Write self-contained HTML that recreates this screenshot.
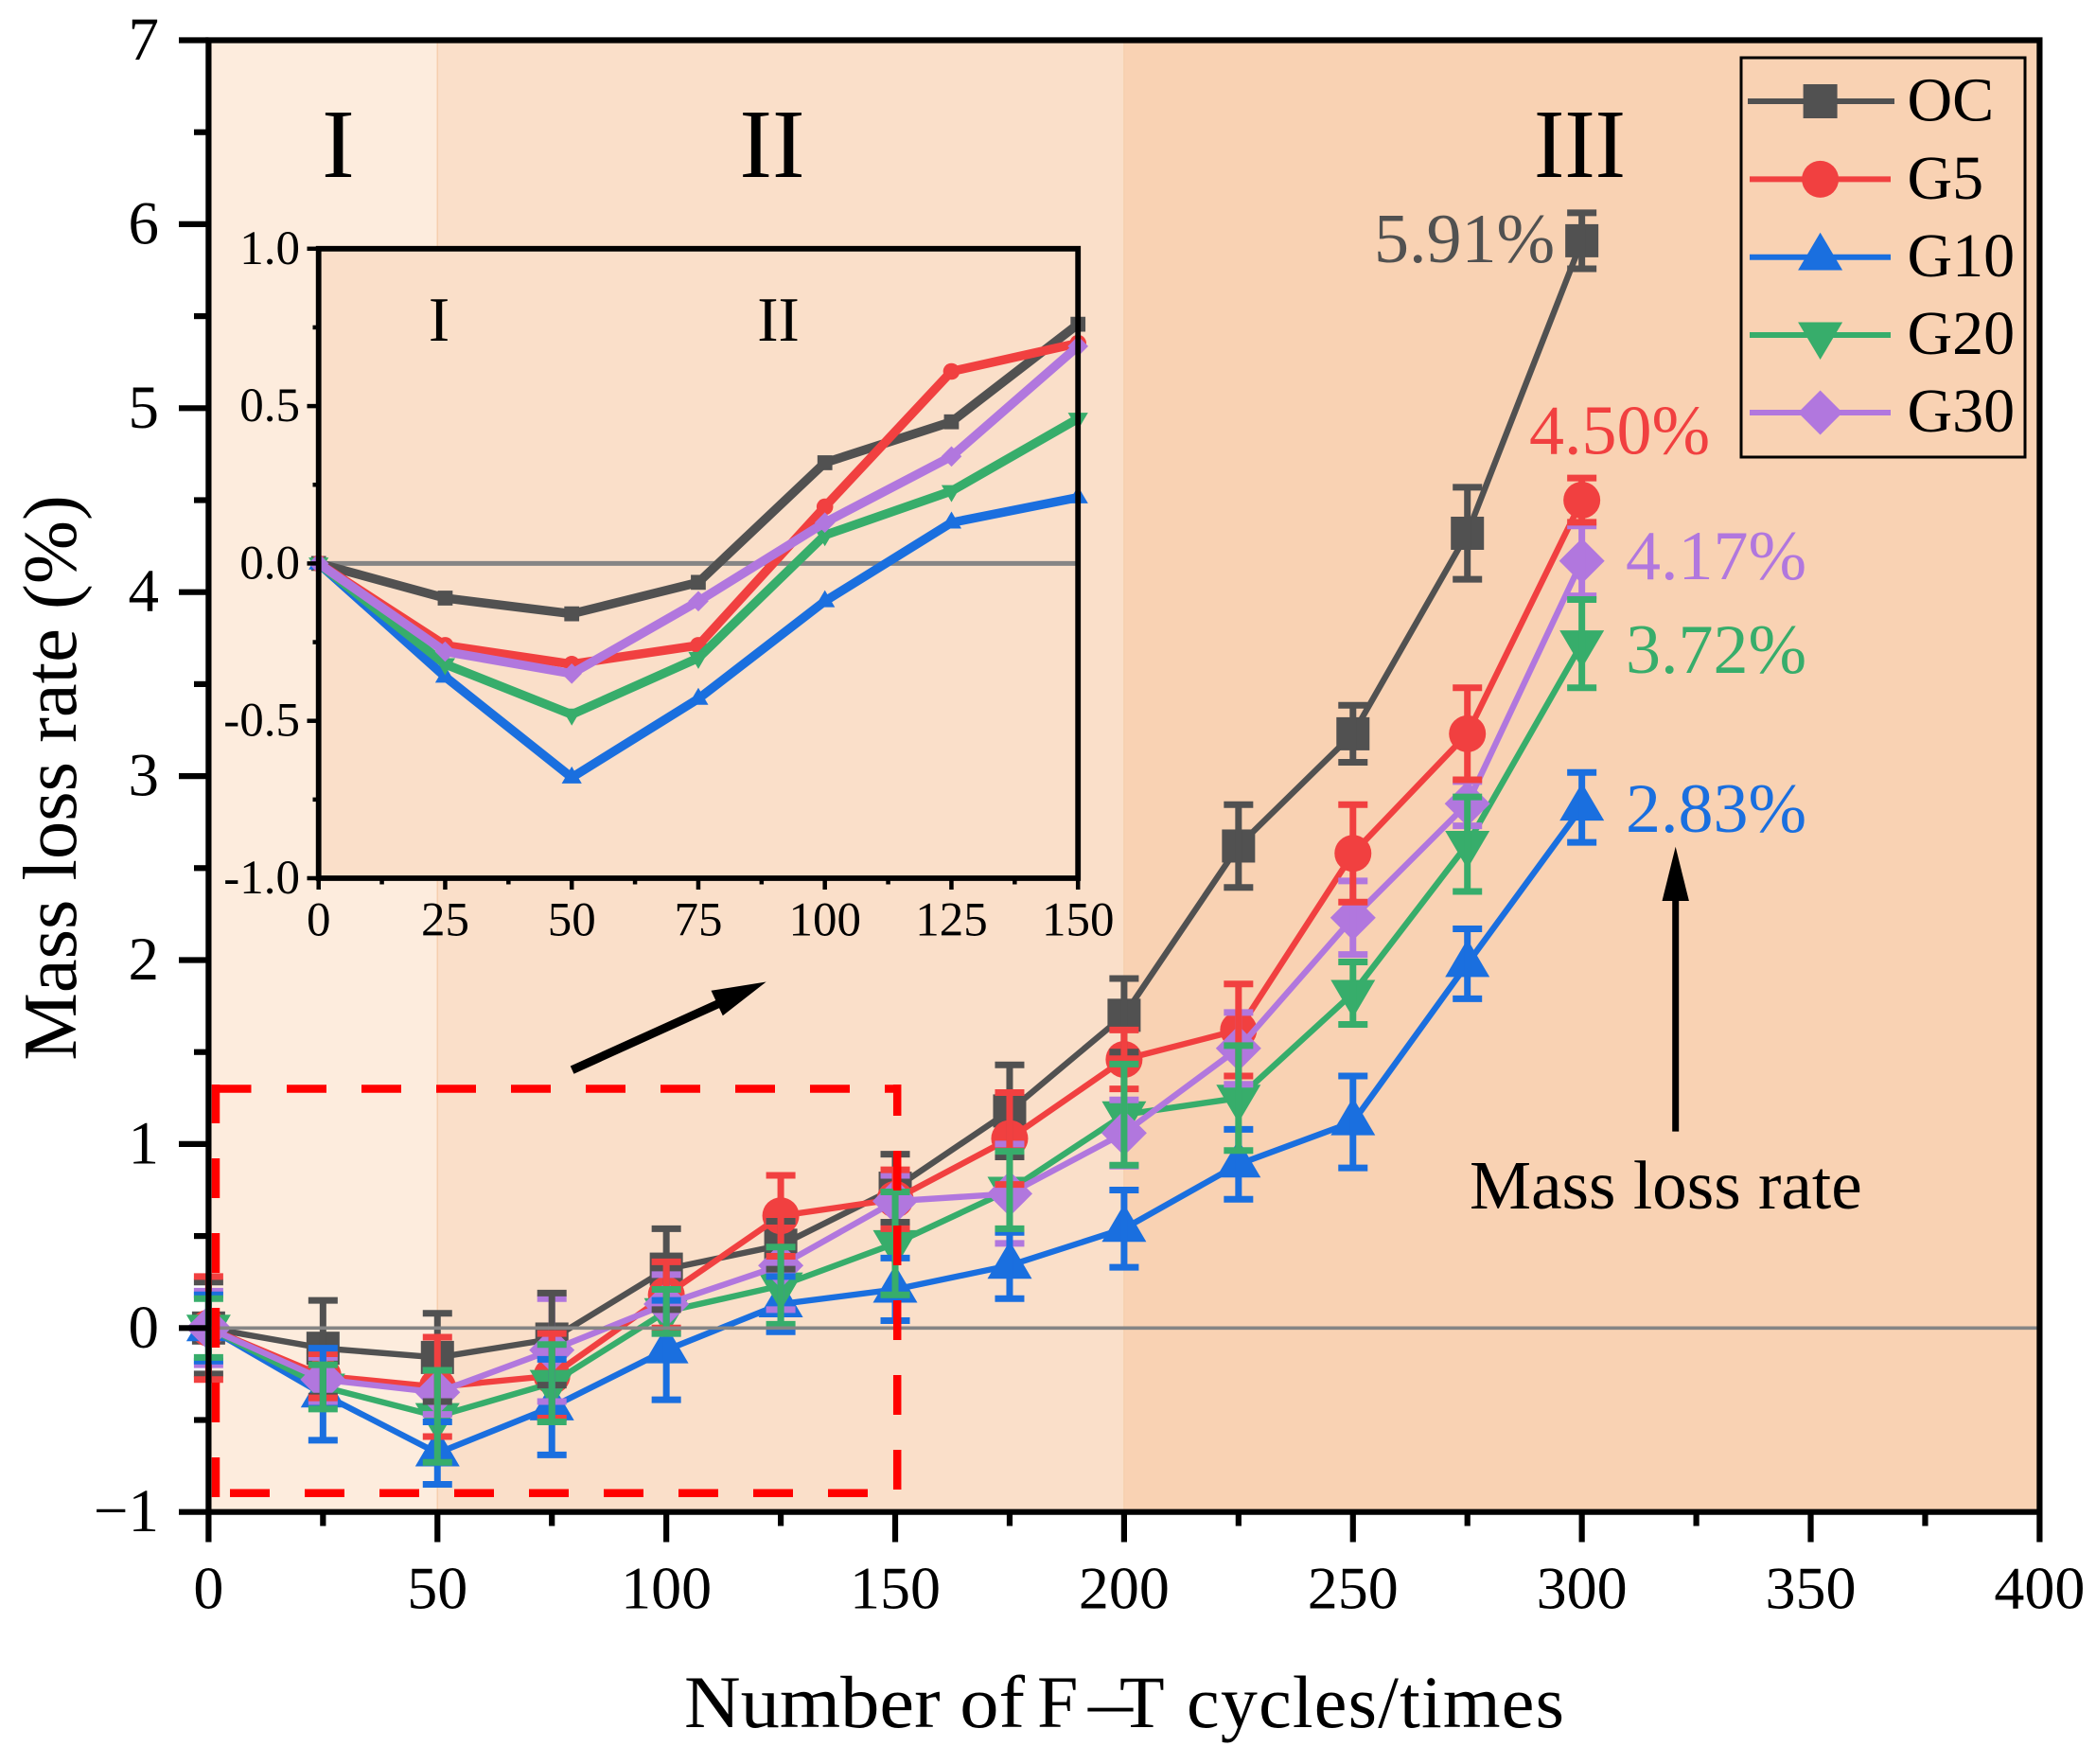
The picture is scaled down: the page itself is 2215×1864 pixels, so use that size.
<!DOCTYPE html>
<html lang="en">
<head>
<meta charset="utf-8">
<title>Mass loss rate vs F-T cycles</title>
<style>
html,body{margin:0;padding:0;background:#fff;}
svg{display:block;}
text{font-family:"Liberation Serif",serif;fill:#000;}
</style>
</head>
<body>
<svg id="chart" xmlns="http://www.w3.org/2000/svg" width="2215" height="1864" viewBox="0 0 2215 1864">
  <rect x="0" y="0" width="2215" height="1864" fill="#ffffff"/>
  <g id="bands"></g>
  <g id="main-lines"></g>
  <g id="main-errors"></g>
  <g id="main-zero"></g>
  <g fill="none" stroke="#ff0000" stroke-width="8.5">
    <path d="M228 1582V1146" stroke-dasharray="42 37"/>
    <path d="M224 1150.5H265.5"/>
    <path d="M303 1150.5H952" stroke-dasharray="42 37"/>
    <path d="M948.2 1146V1578" stroke-dasharray="33 37 42 37 42 37 42 37 42 37 42 37 42 37"/>
    <path d="M243 1577.7H917" stroke-dasharray="42 37"/>
  </g>
  <g id="main-axes"></g>
  <text font-size="80.6" text-anchor="middle" transform="translate(80 822) rotate(-90)">Mass loss rate (%)</text>
  <g>
    <text font-size="78" x="723" y="1825" textLength="360" lengthAdjust="spacingAndGlyphs">Number of</text>
    <text font-size="78" x="1096" y="1825">F</text>
    <text font-size="78" x="1150" y="1825" textLength="47" lengthAdjust="spacingAndGlyphs">–</text>
    <text font-size="78" x="1183" y="1825">T</text>
    <text font-size="78" x="1254" y="1825" textLength="399" lengthAdjust="spacing">cycles/times</text>
  </g>
  <text font-size="104" text-anchor="middle" x="357.5" y="187">I</text>
  <text font-size="104" text-anchor="middle" x="816" y="187">II</text>
  <text font-size="104" x="1621" y="187" textLength="97" lengthAdjust="spacingAndGlyphs">III</text>
  <text font-size="74" x="1452" y="277" style="fill:#515151">5.91%</text>
  <text font-size="74" x="1616" y="479.5" style="fill:#F14040">4.50%</text>
  <text font-size="74" x="1718" y="612" style="fill:#B177DE">4.17%</text>
  <text font-size="74" x="1718" y="711" style="fill:#37AD6B">3.72%</text>
  <text font-size="74" x="1718" y="879" style="fill:#1A6FDF">2.83%</text>
  <g>
    <line x1="604.6" y1="1130.6" x2="765" y2="1058" stroke="#000" stroke-width="9"/>
    <polygon points="809.7,1037.5 751.5,1046.8 763.8,1073.3" fill="#000"/>
  </g>
  <g>
    <line x1="1770.7" y1="945" x2="1770.7" y2="1195.6" stroke="#000" stroke-width="7"/>
    <polygon points="1770.7,894.8 1756.5,952 1784.9,952" fill="#000"/>
  </g>
  <text font-size="73.2" x="1553" y="1277">Mass loss rate</text>

  <g id="inset"></g>
  <text font-size="67" text-anchor="middle" x="464" y="360">I</text>
  <text font-size="67" text-anchor="middle" x="822.5" y="360">II</text>

  <g>
    <rect x="1840" y="61" width="300" height="422" fill="none" stroke="#000" stroke-width="3"/>
    <g>
      <line x1="1847" y1="107" x2="2002" y2="107" stroke="#515151" stroke-width="6"/>
      <rect x="1905.6" y="89" width="36" height="36" fill="#515151"/>
      <text font-size="66" x="2015.5" y="127.5">OC</text>
    </g>
    <g>
      <line x1="1849" y1="189.4" x2="1998" y2="189.4" stroke="#F14040" stroke-width="6"/>
      <circle cx="1923.6" cy="189.4" r="19.5" fill="#F14040"/>
      <text font-size="66" x="2015.5" y="210">G5</text>
    </g>
    <g>
      <line x1="1849" y1="271.7" x2="1998" y2="271.7" stroke="#1A6FDF" stroke-width="6"/>
      <polygon points="1923.6,245.7 1947.1,285.5 1900.1,285.5" fill="#1A6FDF"/>
      <text font-size="66" x="2015.5" y="292">G10</text>
    </g>
    <g>
      <line x1="1849" y1="354" x2="1998" y2="354" stroke="#37AD6B" stroke-width="6"/>
      <polygon points="1923.6,380 1947.1,340.5 1900.1,340.5" fill="#37AD6B"/>
      <text font-size="66" x="2015.5" y="374">G20</text>
    </g>
    <g>
      <line x1="1849" y1="436" x2="1998" y2="436" stroke="#B177DE" stroke-width="6"/>
      <polygon points="1923.6,412.5 1947.1,436 1923.6,459.5 1900.1,436" fill="#B177DE"/>
      <text font-size="66" x="2015.5" y="456">G30</text>
    </g>
  </g>
</svg>
<script>
// ---------- main chart data ----------
const cycles = [0, 25, 50, 75, 100, 125, 150, 175, 200, 225, 250, 275, 300];
const ocValues  = [0, -0.11, -0.16, -0.06, 0.32, 0.45, 0.76, 1.18, 1.70, 2.62, 3.23, 4.32, 5.91];
const g5Values  = [0, -0.26, -0.32, -0.26, 0.18, 0.61, 0.70, 1.03, 1.46, 1.62, 2.58, 3.23, 4.50];
const g10Values = [0, -0.36, -0.68, -0.43, -0.12, 0.13, 0.21, 0.34, 0.54, 0.89, 1.12, 1.98, 2.83];
const g20Values = [0, -0.32, -0.48, -0.30, 0.09, 0.23, 0.46, 0.75, 1.16, 1.25, 1.82, 2.63, 3.72];
const g30Values = [0, -0.28, -0.35, -0.12, 0.13, 0.34, 0.69, 0.73, 1.06, 1.52, 2.23, 2.85, 4.17];
const ocErrors  = [0.25, 0.26, 0.24, 0.25, 0.22, 0.13, 0.185, 0.25, 0.20, 0.225, 0.155, 0.25, 0.152];
const g5Errors  = [0.28, 0.12, 0.27, 0.23, 0.18, 0.22, 0.16, 0.25, 0.16, 0.25, 0.265, 0.25, 0.12];
const g10Errors = [0.18, 0.25, 0.17, 0.26, 0.27, 0.15, 0.17, 0.18, 0.21, 0.19, 0.25, 0.19, 0.19];
const g20Errors = [0.16, 0.12, 0.25, 0.21, 0.12, 0.21, 0.28, 0.21, 0.275, 0.285, 0.17, 0.257, 0.24];
const g30Errors = [0.20, 0.12, 0.12, 0.28, 0.16, 0.24, 0.14, 0.27, 0.18, 0.195, 0.20, 0.12, 0.19];
const xMajorTicks = [0, 50, 100, 150, 200, 250, 300, 350, 400];
const xMinorTicks = [25, 75, 125, 175, 225, 275, 325, 375];
const yMajorTicks = [-1, 0, 1, 2, 3, 4, 5, 6, 7];
const yMinorTicks = [-0.5, 0.5, 1.5, 2.5, 3.5, 4.5, 5.5, 6.5];
const yTickLabels = ['\u22121', '0', '1', '2', '3', '4', '5', '6', '7'];
const bandEdges = [0, 50, 200, 400];
// ---------- inset chart data ----------
const insetCycles = [0, 25, 50, 75, 100, 125, 150];
const insetOc  = [0, -0.11, -0.16, -0.06, 0.32, 0.45, 0.76];
const insetG5  = [0, -0.26, -0.32, -0.26, 0.18, 0.61, 0.70];
const insetG10 = [0, -0.36, -0.68, -0.43, -0.12, 0.13, 0.21];
const insetG20 = [0, -0.32, -0.48, -0.30, 0.09, 0.23, 0.46];
const insetG30 = [0, -0.28, -0.35, -0.12, 0.13, 0.34, 0.69];
const insetXMajor = [0, 25, 50, 75, 100, 125, 150];
const insetXMinor = [12.5, 37.5, 62.5, 87.5, 112.5, 137.5];
const insetYMajor = [-1, -0.5, 0, 0.5, 1];
const insetYMinor = [-0.75, -0.25, 0.25, 0.75];
const insetYLabels = ['-1.0', '-0.5', '0.0', '0.5', '1.0'];

// ---------- axis functions ----------
function sx(v) { return 220.4 + v * (2155.4 - 220.4) / 400; }
function sy(v) { return 1403.3 - v * 194.4; }
function ix(v) { return 336.7 + v * (1139.2 - 336.7) / 150; }
function iy(v) { return 595.4 - v * 332.6; }

const NS = 'http://www.w3.org/2000/svg';
function make(tag, attrs, parent) {
  const el = document.createElementNS(NS, tag);
  for (const k in attrs) el.setAttribute(k, attrs[k]);
  parent.appendChild(el);
  return el;
}
function pts(list) { return list.map(p => p[0].toFixed(1) + ',' + p[1].toFixed(1)).join(' '); }

const colorOc = '#515151', colorG5 = '#F14040', colorG10 = '#1A6FDF', colorG20 = '#37AD6B', colorG30 = '#B177DE';

function drawMarker(kind, cx, cy, s, color, parent, label) {
  let el;
  if (kind === 'square') {
    el = make('rect', {x: cx - 17.5 * s, y: cy - 17.5 * s, width: 35 * s, height: 35 * s, fill: color}, parent);
  } else if (kind === 'circle') {
    el = make('circle', {cx: cx, cy: cy, r: 19.5 * s, fill: color}, parent);
  } else if (kind === 'up') {
    el = make('polygon', {points: pts([[cx, cy - 26 * s], [cx + 23.5 * s, cy + 14 * s], [cx - 23.5 * s, cy + 14 * s]]), fill: color}, parent);
  } else if (kind === 'down') {
    el = make('polygon', {points: pts([[cx, cy + 26 * s], [cx + 23.5 * s, cy - 14 * s], [cx - 23.5 * s, cy - 14 * s]]), fill: color}, parent);
  } else {
    el = make('polygon', {points: pts([[cx, cy - 24 * s], [cx + 24 * s, cy], [cx, cy + 24 * s], [cx - 24 * s, cy]]), fill: color}, parent);
  }
  
  
}

// bands
const bandColors = ['#FDECDD', '#FADFC9', '#F9D2B3'];
const bandsG = document.getElementById('bands');
for (let i = 0; i < bandColors.length; i++) {
  const band = make('rect', {x: sx(bandEdges[i]), y: sy(7), width: sx(bandEdges[i + 1]) - sx(bandEdges[i]), height: sy(-1) - sy(7), fill: bandColors[i]}, bandsG);
  
  
}
for (let i = 1; i < bandColors.length; i++) {
  const edge = make('line', {x1: sx(bandEdges[i]), x2: sx(bandEdges[i]), y1: sy(7), y2: sy(-1), stroke: '#F6CFAE', 'stroke-width': 1.5}, bandsG);
  
  
}

// main series
const mainSeries = [
  {id: 'oc', values: ocValues, errors: ocErrors, color: colorOc, kind: 'square'},
  {id: 'g5', values: g5Values, errors: g5Errors, color: colorG5, kind: 'circle'},
  {id: 'g10', values: g10Values, errors: g10Errors, color: colorG10, kind: 'up'},
  {id: 'g20', values: g20Values, errors: g20Errors, color: colorG20, kind: 'down'},
  {id: 'g30', values: g30Values, errors: g30Errors, color: colorG30, kind: 'diamond'}
];
const linesG = document.getElementById('main-lines');
mainSeries.forEach(function (s) {
  const line = make('polyline', {points: pts(cycles.map((c, i) => [sx(c), sy(s.values[i])])), fill: 'none', stroke: s.color, 'stroke-width': 6.4, 'stroke-linejoin': 'miter'}, linesG);
  
  
  cycles.forEach(function (c, i) {
    drawMarker(s.kind, sx(c), sy(s.values[i]), 1, s.color, linesG, 'marker-' + s.id);
  });
});

// error bars
const errorsG = document.getElementById('main-errors');
const errorOrder = [mainSeries[4], mainSeries[0], mainSeries[1], mainSeries[2], mainSeries[3]];
errorOrder.forEach(function (s) {
  cycles.forEach(function (c, i) {
    const top = sy(s.values[i] + s.errors[i]);
    const bottom = sy(s.values[i] - s.errors[i]);
    const x = sx(c);
    const bar = make('path', {d: 'M' + x + ' ' + top + 'V' + bottom + 'M' + (x - 15.5) + ' ' + top + 'H' + (x + 15.5) + 'M' + (x - 15.5) + ' ' + bottom + 'H' + (x + 15.5), fill: 'none', stroke: s.color, 'stroke-width': 7}, errorsG);
    
    
  });
});

// zero line
const zeroMain = make('line', {x1: sx(0), x2: sx(400), y1: sy(0), y2: sy(0), stroke: '#858585', 'stroke-width': 3.6}, document.getElementById('main-zero'));



// main axes
const axesG = document.getElementById('main-axes');
const frame = make('path', {d: 'M' + sx(0) + ' ' + sy(-1) + 'V' + sy(7) + 'H' + sx(400) + 'V' + sy(-1) + 'Z', fill: 'none', stroke: '#000', 'stroke-width': 6.2}, axesG);


xMajorTicks.forEach(function (v) {
  const tick = make('line', {x1: sx(v), x2: sx(v), y1: sy(-1), y2: 1629.5, stroke: '#000', 'stroke-width': 6.2}, axesG);
  
  
  const label = make('text', {x: sx(v), y: 1699.5, 'text-anchor': 'middle', 'font-size': 64}, axesG);
  
  
  label.textContent = String(v);
});
xMinorTicks.forEach(function (v) {
  const tick = make('line', {x1: sx(v), x2: sx(v), y1: sy(-1), y2: 1612.5, stroke: '#000', 'stroke-width': 6.2}, axesG);
  
  
});
yMajorTicks.forEach(function (v, i) {
  const tick = make('line', {x1: 189, x2: sx(0), y1: sy(v), y2: sy(v), stroke: '#000', 'stroke-width': 6.2}, axesG);
  
  
  const label = make('text', {x: 168, y: sy(v) + 20.5, 'text-anchor': 'end', 'font-size': 65}, axesG);
  
  
  label.textContent = yTickLabels[i];
});
yMinorTicks.forEach(function (v) {
  const tick = make('line', {x1: 205, x2: sx(0), y1: sy(v), y2: sy(v), stroke: '#000', 'stroke-width': 6.2}, axesG);
  
  
});

// inset
const insetG = document.getElementById('inset');
const insetBg = make('rect', {x: ix(0), y: iy(1), width: ix(150) - ix(0), height: iy(-1) - iy(1), fill: '#FADFC9'}, insetG);


const insetSeries = [
  {id: 'oc', values: insetOc, color: colorOc, kind: 'square'},
  {id: 'g5', values: insetG5, color: colorG5, kind: 'circle'},
  {id: 'g10', values: insetG10, color: colorG10, kind: 'up'},
  {id: 'g20', values: insetG20, color: colorG20, kind: 'down'},
  {id: 'g30', values: insetG30, color: colorG30, kind: 'diamond'}
];
const zeroInset = make('line', {x1: ix(0), x2: ix(150), y1: iy(0), y2: iy(0), stroke: '#858585', 'stroke-width': 5}, insetG);


insetSeries.forEach(function (s) {
  const line = make('polyline', {points: pts(insetCycles.map((c, i) => [ix(c), iy(s.values[i])])), fill: 'none', stroke: s.color, 'stroke-width': 9.5}, insetG);
  
  
  insetCycles.forEach(function (c, i) {
    drawMarker(s.kind, ix(c), iy(s.values[i]), 0.45, s.color, insetG, 'inset-marker-' + s.id);
  });
});
const insetFrame = make('path', {d: 'M' + ix(0) + ' ' + iy(-1) + 'V' + iy(1) + 'H' + ix(150) + 'V' + iy(-1) + 'Z', fill: 'none', stroke: '#000', 'stroke-width': 5.8}, insetG);


insetXMajor.forEach(function (v) {
  const tick = make('line', {x1: ix(v), x2: ix(v), y1: iy(-1), y2: 940, stroke: '#000', 'stroke-width': 4.5}, insetG);
  
  
  const label = make('text', {x: ix(v), y: 988.5, 'text-anchor': 'middle', 'font-size': 51}, insetG);
  
  
  label.textContent = String(v);
});
insetXMinor.forEach(function (v) {
  const tick = make('line', {x1: ix(v), x2: ix(v), y1: iy(-1), y2: 934.5, stroke: '#000', 'stroke-width': 4.5}, insetG);
  
  
});
insetYMajor.forEach(function (v, i) {
  const tick = make('line', {x1: 324.5, x2: ix(0), y1: iy(v), y2: iy(v), stroke: '#000', 'stroke-width': 4.5}, insetG);
  
  
  const label = make('text', {x: 317, y: iy(v) + 16, 'text-anchor': 'end', 'font-size': 51}, insetG);
  
  
  label.textContent = insetYLabels[i];
});
insetYMinor.forEach(function (v) {
  const tick = make('line', {x1: 330.5, x2: ix(0), y1: iy(v), y2: iy(v), stroke: '#000', 'stroke-width': 4.5}, insetG);
  
  
});
</script>
</body>
</html>
